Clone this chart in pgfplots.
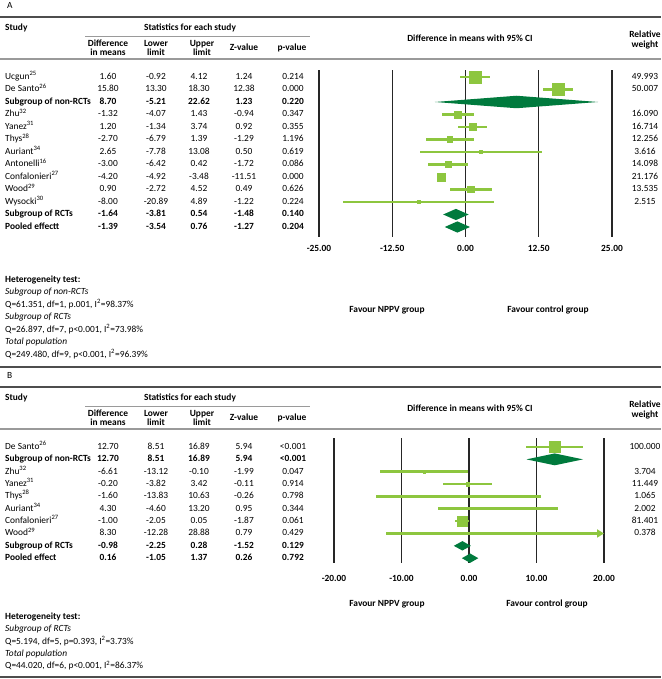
\documentclass[border=0pt]{standalone}
\usepackage{pgfplots}
\pgfplotsset{compat=1.18}
\usepackage{pgfplotstable}
\usepackage{fontspec}
\setmainfont{Carlito}
\usetikzlibrary{arrows.meta}
\definecolor{lgreen}{HTML}{8DC63F}
\definecolor{dgreen}{HTML}{007A3D}
\definecolor{rulegray}{HTML}{4D4D4D}
\definecolor{hgray}{HTML}{9A9A9A}
\definecolor{gridc}{HTML}{262626}

\newcommand{\fs}{\fontsize{9.4}{9.2}\selectfont}

% Panel A studies: row (negative), mean, lower, upper, relative weight
\pgfplotstableread{
r m lo hi w
-1 1.60 -0.92 4.12 49.993
-2 15.80 13.30 18.30 50.007
-4 -1.32 -4.07 1.43 16.090
-5 1.20 -1.34 3.74 16.714
-6 -2.70 -6.79 1.39 12.256
-7 2.65 -7.78 13.08 3.616
-8 -3.00 -6.42 0.42 14.098
-9 -4.20 -4.92 -3.48 21.176
-10 0.90 -2.72 4.52 13.535
-11 -8.00 -20.89 4.89 2.515
}\studiesA

% Panel B studies (Wood drawn separately: upper limit 28.88 beyond axis)
\pgfplotstableread{
r m lo hi w
-1 12.70 8.51 16.89 100.000
-3 -6.61 -13.12 -0.10 3.704
-4 -0.20 -3.82 3.42 11.449
-5 -1.60 -13.83 10.63 1.065
-6 4.30 -4.60 13.20 2.002
-7 -1.00 -2.05 0.05 81.401
}\studiesB

\newcommand{\trow}[9][]{%
 \node[anchor=mid west,#1] at (5,#2) {#3};
 \node[#1] at (108,#2) {#4};
 \node[#1] at (156,#2) {#5};
 \node[#1] at (199,#2) {#6};
 \node[#1] at (244,#2) {#7};
 \node[#1] at (293,#2) {#8};
 \node[#1] at (645,#2) {#9};}

\pgfplotsset{forest/.style={
  scale only axis, clip=false,
  axis line style={draw=none},
  ytick=\empty, xtick pos=bottom,
  major tick length=0pt,
  xmajorgrids, grid style={gridc, line width=1.3pt},
  }}

\begin{document}
\begin{tikzpicture}
\useasboundingbox (0,0) rectangle (661pt,679pt);
\fill[white] (0,0) rectangle (661pt,679pt);

%================ Panel A forest plot
\begin{axis}[forest,
  at={(319pt,442pt)}, anchor=south west,
  width=293pt, height=167pt,
  xmin=-25, xmax=25, ymin=-13.8, ymax=-0.44,
  xtick={-25,-12.5,0,12.5,25},
  xticklabels={-25.00,-12.50,0.00,12.50,25.00},
  xticklabel style={font=\fs\bfseries, anchor=mid, yshift=-12pt},
]
\addplot[only marks, mark=square*, color=lgreen,
  visualization depends on={\thisrow{w} \as \wt},
  scatter, scatter/use mapped color={draw=lgreen, fill=lgreen},
  scatter/@pre marker code/.append style={/tikz/mark size={0.85*sqrt(\wt)}},
  error bars/.cd, x dir=both, x explicit, error mark=none,
  error bar style={line width=2.6pt, color=lgreen},
] table[x=m, y=r,
  x error plus expr=\thisrow{hi}-\thisrow{m},
  x error minus expr=\thisrow{m}-\thisrow{lo}] {\studiesA};
% diamonds: subgroup non-RCTs, subgroup RCTs, pooled
\addplot[fill=dgreen, draw=none] coordinates {(-5.21,-3) (8.70,-2.5) (22.62,-3) (8.70,-3.5)} -- cycle;
\addplot[fill=dgreen, draw=none] coordinates {(-3.81,-12) (-1.64,-11.55) (0.54,-12) (-1.64,-12.45)} -- cycle;
\addplot[fill=dgreen, draw=none] coordinates {(-3.54,-13) (-1.39,-12.55) (0.76,-13) (-1.39,-13.45)} -- cycle;
\end{axis}

%================ Panel B forest plot
\begin{axis}[forest,
  at={(334pt,116pt)}, anchor=south west,
  width=270pt, height=125pt,
  xmin=-20, xmax=20, ymin=-10.39, ymax=-0.27,
  xtick={-20,-10,0,10,20},
  xticklabels={-20.00,-10.00,0.00,10.00,20.00},
  xticklabel style={font=\fs\bfseries, anchor=mid, yshift=-16pt},
]
\addplot[only marks, mark=square*, color=lgreen,
  visualization depends on={\thisrow{w} \as \wt},
  scatter, scatter/use mapped color={draw=lgreen, fill=lgreen},
  scatter/@pre marker code/.append style={/tikz/mark size={0.55*sqrt(\wt)}},
  error bars/.cd, x dir=both, x explicit, error mark=none,
  error bar style={line width=2.6pt, color=lgreen},
] table[x=m, y=r,
  x error plus expr=\thisrow{hi}-\thisrow{m},
  x error minus expr=\thisrow{m}-\thisrow{lo}] {\studiesB};
% Wood: -12.28 to 28.88, truncated with an arrow at the axis limit 20
\addplot[lgreen, line width=2.6pt, -{Triangle[length=7pt,width=8pt]}] coordinates {(-12.28,-8) (20,-8)};
\addplot[only marks, mark=square*, lgreen, mark size=0.6pt] coordinates {(8.30,-8)};
\addplot[fill=dgreen, draw=none] coordinates {(8.51,-2) (12.70,-1.52) (16.89,-2) (12.70,-2.48)} -- cycle;
\addplot[fill=dgreen, draw=none] coordinates {(-2.25,-9) (-0.98,-8.62) (0.28,-9) (-0.98,-9.38)} -- cycle;
\addplot[fill=dgreen, draw=none] coordinates {(-1.05,-10) (0.16,-9.62) (1.37,-10) (0.16,-10.38)} -- cycle;
\end{axis}

%================ Tables and text (pixel coordinates, y downward)
\begin{scope}[x=1pt, y=-1pt, shift={(0pt,679pt)},
  every node/.style={inner sep=0pt, font=\fs, anchor=mid}]
% ---- Panel A
\node[anchor=mid west] at (7,6) {A};
\draw[rulegray, line width=2pt] (0,17) -- (661,17);
\draw[hgray, line width=1pt] (85,37) -- (310,37);
\draw[hgray, line width=1.5pt] (0,59) -- (661,59);
\draw[rulegray, line width=2pt] (0,367) -- (661,367);
\node[anchor=mid west, font=\fs\bfseries] at (5,28) {Study};
\node[font=\fs\bfseries] at (190,28) {Statistics for each study};
\node[font=\fs\bfseries, align=center, anchor=center] at (108,48) {Difference\\in means};
\node[font=\fs\bfseries, align=center, anchor=center] at (156,48) {Lower\\limit};
\node[font=\fs\bfseries, align=center, anchor=center] at (202,48) {Upper\\limit};
\node[font=\fs\bfseries] at (244,48) {Z-value};
\node[font=\fs\bfseries] at (292,48) {p-value};
\node[font=\fs\bfseries] at (470,39) {Difference in means with 95\% CI};
\node[font=\fs\bfseries, align=center, anchor=center] at (645,40) {Relative\\weight};

\trow{77}{Ucgun\textsuperscript{25}}{1.60}{-0.92}{4.12}{1.24}{0.214}{49.993}
\trow{89.5}{De Santo\textsuperscript{26}}{15.80}{13.30}{18.30}{12.38}{0.000}{50.007}
\trow[font=\fs\bfseries]{102}{Subgroup of non-RCTs}{8.70}{-5.21}{22.62}{1.23}{0.220}{}
\trow{114.5}{Zhu\textsuperscript{32}}{-1.32}{-4.07}{1.43}{-0.94}{0.347}{16.090}
\trow{127}{Yanez\textsuperscript{31}}{1.20}{-1.34}{3.74}{0.92}{0.355}{16.714}
\trow{139.5}{Thys\textsuperscript{28}}{-2.70}{-6.79}{1.39}{-1.29}{1.196}{12.256}
\trow{152}{Auriant\textsuperscript{34}}{2.65}{-7.78}{13.08}{0.50}{0.619}{3.616}
\trow{164.5}{Antonelli\textsuperscript{16}}{-3.00}{-6.42}{0.42}{-1.72}{0.086}{14.098}
\trow{177}{Confalonieri\textsuperscript{27}}{-4.20}{-4.92}{-3.48}{-11.51}{0.000}{21.176}
\trow{189.5}{Wood\textsuperscript{29}}{0.90}{-2.72}{4.52}{0.49}{0.626}{13.535}
\trow{202}{Wysocki\textsuperscript{30}}{-8.00}{-20.89}{4.89}{-1.22}{0.224}{2.515}
\trow[font=\fs\bfseries]{214.5}{Subgroup of RCTs}{-1.64}{-3.81}{0.54}{-1.48}{0.140}{}
\trow[font=\fs\bfseries]{227}{Pooled effectt}{-1.39}{-3.54}{0.76}{-1.27}{0.204}{}

\node[font=\fs\bfseries] at (387,310) {Favour NPPV group};
\node[font=\fs\bfseries] at (548,310) {Favour control group};

\node[anchor=mid west, font=\fs\bfseries] at (5,280) {Heterogeneity test:};
\node[anchor=mid west, font=\fs\itshape] at (5,292.5) {Subgroup of non-RCTs};
\node[anchor=mid west] at (5,305) {Q=61.351, df=1, p.001, I\textsuperscript{2}=98.37\%};
\node[anchor=mid west, font=\fs\itshape] at (5,317.5) {Subgroup of RCTs};
\node[anchor=mid west] at (5,330) {Q=26.897, df=7, p<0.001, I\textsuperscript{2}=73.98\%};
\node[anchor=mid west, font=\fs\itshape] at (5,342.5) {Total population};
\node[anchor=mid west] at (5,355) {Q=249.480, df=9, p<0.001, I\textsuperscript{2}=96.39\%};

% ---- Panel B
\node[anchor=mid west] at (7,376) {B};
\draw[rulegray, line width=2pt] (0,387) -- (661,387);
\draw[hgray, line width=1pt] (85,407) -- (310,407);
\draw[hgray, line width=1.5pt] (0,429) -- (661,429);
\draw[rulegray, line width=2pt] (0,677) -- (661,677);
\node[anchor=mid west, font=\fs\bfseries] at (5,398) {Study};
\node[font=\fs\bfseries] at (190,398) {Statistics for each study};
\node[font=\fs\bfseries, align=center, anchor=center] at (108,418) {Difference\\in means};
\node[font=\fs\bfseries, align=center, anchor=center] at (156,418) {Lower\\limit};
\node[font=\fs\bfseries, align=center, anchor=center] at (202,418) {Upper\\limit};
\node[font=\fs\bfseries] at (244,418) {Z-value};
\node[font=\fs\bfseries] at (292,418) {p-value};
\node[font=\fs\bfseries] at (470,409) {Difference in means with 95\% CI};
\node[font=\fs\bfseries, align=center, anchor=center] at (645,410) {Relative\\weight};

\trow{447}{De Santo\textsuperscript{26}}{12.70}{8.51}{16.89}{5.94}{<0.001}{100.000}
\trow[font=\fs\bfseries]{459.35}{Subgroup of non-RCTs}{12.70}{8.51}{16.89}{5.94}{<0.001}{}
\trow{471.7}{Zhu\textsuperscript{32}}{-6.61}{-13.12}{-0.10}{-1.99}{0.047}{3.704}
\trow{484.05}{Yanez\textsuperscript{31}}{-0.20}{-3.82}{3.42}{-0.11}{0.914}{11.449}
\trow{496.4}{Thys\textsuperscript{28}}{-1.60}{-13.83}{10.63}{-0.26}{0.798}{1.065}
\trow{508.75}{Auriant\textsuperscript{34}}{4.30}{-4.60}{13.20}{0.95}{0.344}{2.002}
\trow{521.1}{Confalonieri\textsuperscript{27}}{-1.00}{-2.05}{0.05}{-1.87}{0.061}{81.401}
\trow{533.45}{Wood\textsuperscript{29}}{8.30}{-12.28}{28.88}{0.79}{0.429}{0.378}
\trow[font=\fs\bfseries]{545.8}{Subgroup of RCTs}{-0.98}{-2.25}{0.28}{-1.52}{0.129}{}
\trow[font=\fs\bfseries]{558.15}{Pooled effect}{0.16}{-1.05}{1.37}{0.26}{0.792}{}

\node[font=\fs\bfseries] at (387,604) {Favour NPPV group};
\node[font=\fs\bfseries] at (547,604) {Favour control group};

\node[anchor=mid west, font=\fs\bfseries] at (5,617) {Heterogeneity test:};
\node[anchor=mid west, font=\fs\itshape] at (5,629.4) {Subgroup of RCTs};
\node[anchor=mid west] at (5,641.8) {Q=5.194, df=5, p=0.393, I\textsuperscript{2}=3.73\%};
\node[anchor=mid west, font=\fs\itshape] at (5,654.2) {Total population};
\node[anchor=mid west] at (5,666.6) {Q=44.020, df=6, p<0.001, I\textsuperscript{2}=86.37\%};
\end{scope}
\end{tikzpicture}
\end{document}
